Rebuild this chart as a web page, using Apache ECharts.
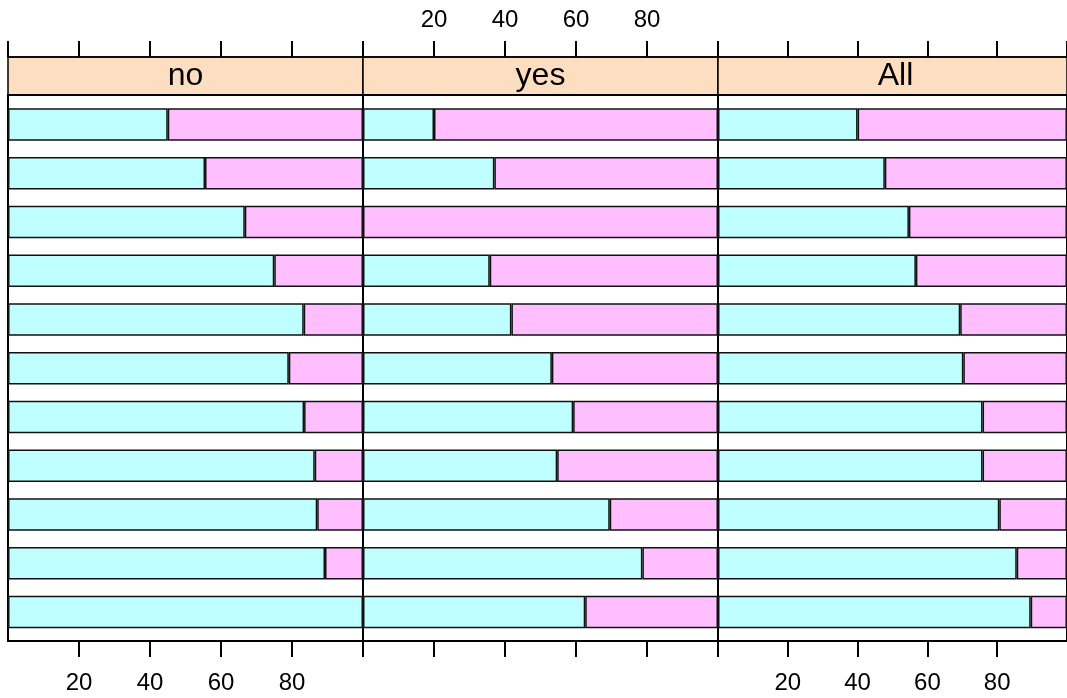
<!DOCTYPE html>
<html>
<head>
<meta charset="utf-8">
<script src="https://cdn.jsdelivr.net/npm/echarts@6/dist/echarts.min.js"></script>
<style>
html,body{margin:0;padding:0;background:#fff;}
#chart{width:1067px;height:698px;}
</style>
</head>
<body>
<div id="chart"></div>
<script>
// ---- data ----
var categories = ['1','2','3','4','5','6','7','8','9','10','11'];
var panels = ['no', 'yes', 'All'];
var noCyan  = [45, 55.5, 66.7, 75, 83.3, 79.1, 83.4, 86.4, 87.1, 89.3, 100];
var noPink  = [55, 44.5, 33.3, 25, 16.7, 20.9, 16.6, 13.6, 12.9, 10.7, 0];
var yesCyan = [20, 37, 0, 35.7, 41.8, 53.2, 59.2, 54.7, 69.5, 78.7, 62.6];
var yesPink = [80, 63, 100, 64.3, 58.2, 46.8, 40.8, 45.3, 30.5, 21.3, 37.4];
var allCyan = [40, 47.8, 54.7, 56.7, 69.4, 70.3, 75.8, 75.8, 80.6, 85.6, 89.6];
var allPink = [60, 52.2, 45.3, 43.3, 30.6, 29.7, 24.2, 24.2, 19.4, 14.4, 10.4];
var tickMin = 0, tickMax = 100, tickStep = 20;

// ---- layout / style ----
var FONT = 'Liberation Sans, Arial, sans-serif';
var CYAN = '#C0FFFF', PINK = '#FFBEFF', PEACH = '#FDDEC1';
var panelLeft = [8, 363, 718], panelW = 355;
var stripTop = 57, stripH = 38, boxTop = 95, boxBottom = 641;
var barTop = 100.1, barH = 536.3;
var topLabels = [false, true, false];
var bottomLabels = [true, false, true];
var seriesData = [[noCyan, noPink], [yesCyan, yesPink], [allCyan, allPink]];

var grids = [], xAxes = [], yAxes = [], series = [], graphics = [];
panels.forEach(function (name, i) {
  var L = panelLeft[i];
  // strip grid
  grids.push({left: L, top: stripTop, width: panelW, height: stripH, show: true,
    backgroundColor: PEACH, borderColor: '#000', borderWidth: 1.5, containLabel: false});
  // panel box grid
  grids.push({left: L, top: boxTop, width: panelW, height: boxBottom - boxTop, show: true,
    backgroundColor: 'transparent', borderColor: '#000', borderWidth: 2, containLabel: false});
  // bar grid
  grids.push({left: L, top: barTop, width: panelW, height: barH, show: false, containLabel: false});
  var g = i * 3;
  xAxes.push({gridIndex: g, type: 'value', position: 'top', min: tickMin, max: tickMax, interval: tickStep,
    axisLine: {show: true, onZero: false, lineStyle: {color: '#000', width: 1.5}},
    axisTick: {show: true, inside: false, length: 16, lineStyle: {color: '#000', width: 2}},
    axisLabel: {show: topLabels[i], showMinLabel: false, showMaxLabel: false, margin: 25,
      color: '#000', fontSize: 24, fontFamily: FONT},
    splitLine: {show: false}});
  xAxes.push({gridIndex: g + 1, type: 'value', position: 'bottom', min: tickMin, max: tickMax, interval: tickStep,
    axisLine: {show: true, onZero: false, lineStyle: {color: '#000', width: 2}},
    axisTick: {show: true, inside: false, length: 16, lineStyle: {color: '#000', width: 2}},
    axisLabel: {show: bottomLabels[i], showMinLabel: false, showMaxLabel: false, margin: 30,
      color: '#000', fontSize: 24, fontFamily: FONT},
    splitLine: {show: false}});
  xAxes.push({gridIndex: g + 2, type: 'value', min: tickMin, max: tickMax, show: false, splitLine: {show: false}});
  yAxes.push({gridIndex: g, type: 'value', show: false});
  yAxes.push({gridIndex: g + 1, type: 'value', show: false});
  yAxes.push({gridIndex: g + 2, type: 'category', data: categories, inverse: true, show: false});
  var cols = [CYAN, PINK];
  seriesData[i].forEach(function (arr, k) {
    series.push({type: 'bar', xAxisIndex: g + 2, yAxisIndex: g + 2, stack: 'p' + i,
      data: arr, barWidth: 32.4, silent: true, animation: false,
      itemStyle: {color: cols[k], borderColor: '#111', borderWidth: 1.5}});
  });
  graphics.push({type: 'text', x: L + panelW / 2, y: stripTop + stripH / 2, z: 100,
    style: {text: name, align: 'center', verticalAlign: 'middle', fill: '#000',
      font: '32px ' + FONT}});
});

var chart = echarts.init(document.getElementById('chart'), null, {renderer: 'canvas'});
chart.setOption({
  animation: false,
  backgroundColor: '#fff',
  grid: grids,
  xAxis: xAxes,
  yAxis: yAxes,
  series: series,
  graphic: graphics
});
</script>
</body>
</html>
